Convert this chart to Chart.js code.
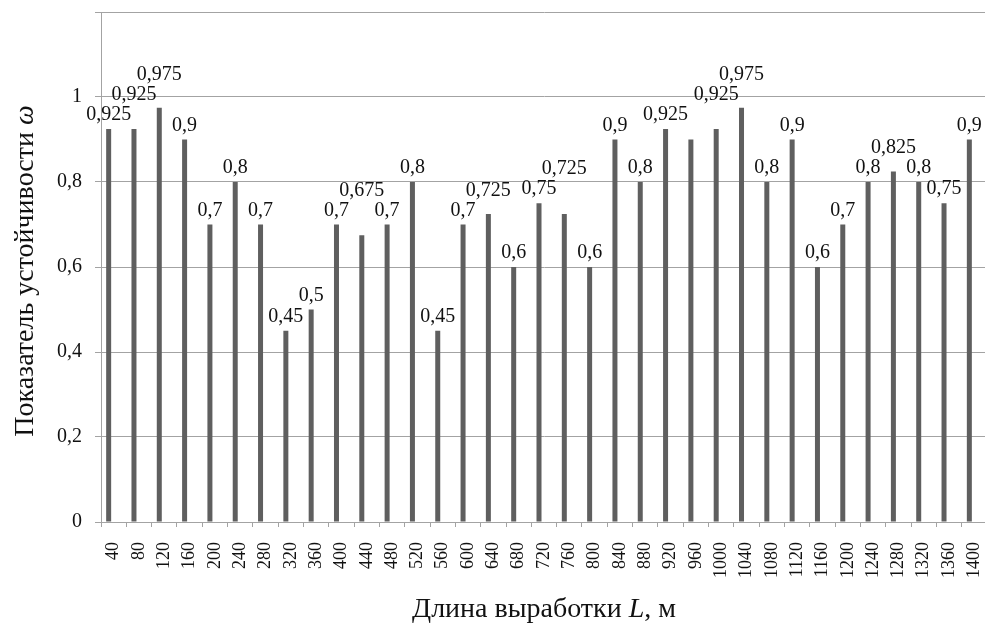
<!DOCTYPE html>
<html>
<head>
<meta charset="utf-8">
<script src="https://cdn.jsdelivr.net/npm/chart.js@4"></script>
<style>
  html, body { margin: 0; padding: 0; background: #fff; overflow: hidden; }
  #wrap { position: relative; width: 992px; height: 635px; }
</style>
</head>
<body>
<div id="wrap"><canvas id="chart"></canvas></div>
<script>
// Длина выработки L, м
const lengths = [40, 80, 120, 160, 200, 240, 280, 320, 360, 400, 440, 480, 520, 560, 600, 640, 680,
  720, 760, 800, 840, 880, 920, 960, 1000, 1040, 1080, 1120, 1160, 1200, 1240, 1280, 1320, 1360, 1400];
// Показатель устойчивости ω
const omega = [0.925, 0.925, 0.975, 0.9, 0.7, 0.8, 0.7, 0.45, 0.5, 0.7, 0.675, 0.7, 0.8, 0.45, 0.7, 0.725, 0.6,
  0.75, 0.725, 0.6, 0.9, 0.8, 0.925, 0.9, 0.925, 0.975, 0.8, 0.9, 0.6, 0.7, 0.8, 0.825, 0.8, 0.75, 0.9];
// the source shows no value label over this bar
const unlabeled = [960];
const yTicks = [0, 0.2, 0.4, 0.6, 0.8, 1, 1.2];

const SERIF = "'Liberation Serif', 'Times New Roman', serif";
const GRID = '#a3a3a3';
const comma = v => String(+v.toFixed(3)).replace('.', ',');

// value labels above bars, pushed up when they would collide with a neighbour
const valueLabels = {
  id: 'valueLabels',
  afterDatasetsDraw(chart) {
    const ctx = chart.ctx;
    const meta = chart.getDatasetMeta(0);
    const LABEL_H = 15;
    const placed = [];
    ctx.save();
    ctx.font = '20px ' + SERIF;
    ctx.fillStyle = '#111';
    ctx.textAlign = 'center';
    ctx.textBaseline = 'alphabetic';
    meta.data.forEach((bar, i) => {
      if (unlabeled.includes(lengths[i])) return;
      const text = comma(omega[i]);
      const w = ctx.measureText(text).width;
      let bottom = bar.y - 9;
      let moved = true;
      while (moved) {
        moved = false;
        for (const p of placed) {
          const xHit = Math.abs(p.x - bar.x) < (p.w + w) / 2 + 6;
          const yHit = bottom > p.bottom - LABEL_H && bottom - LABEL_H < p.bottom;
          if (xHit && yHit) {
            bottom = p.bottom - LABEL_H - 5;
            moved = true;
          }
        }
      }
      placed.push({ x: bar.x, w, bottom });
      ctx.fillText(text, bar.x, bottom);
    });
    ctx.restore();
  }
};

// axis titles with italic symbols
function richText(ctx, parts, cx, cy, angle) {
  ctx.save();
  ctx.translate(cx, cy);
  ctx.rotate(angle);
  ctx.textBaseline = 'alphabetic';
  ctx.textAlign = 'left';
  ctx.fillStyle = '#111';
  let total = 0;
  parts.forEach(p => { ctx.font = p[1] + ' 28px ' + SERIF; total += ctx.measureText(p[0]).width; });
  let x = -total / 2;
  parts.forEach(p => {
    ctx.font = p[1] + ' 28px ' + SERIF;
    ctx.fillText(p[0], x, 0);
    x += ctx.measureText(p[0]).width;
  });
  ctx.restore();
}

const axisTitles = {
  id: 'axisTitles',
  afterDraw(chart) {
    const ctx = chart.ctx;
    richText(ctx, [['Показатель устойчивости ', 'normal'], ['ω', 'italic']], 33, 271, -Math.PI / 2);
    richText(ctx, [['Длина выработки ', 'normal'], ['L', 'italic'], [', м', 'normal']], 544, 617, 0);
  }
};

new Chart(document.getElementById('chart'), {
  type: 'bar',
  data: {
    labels: lengths.map(String),
    datasets: [
      {
        data: omega,
        backgroundColor: '#5f5f5f',
        borderWidth: 0,
        categoryPercentage: 0.79,
        barPercentage: 0.5
      },
      // second series of the source sheet is empty, it only reserves the slot to the right
      { data: [], backgroundColor: '#5f5f5f', categoryPercentage: 0.79, barPercentage: 0.5 }
    ]
  },
  options: {
    responsive: true,
    maintainAspectRatio: false,
    animation: false,
    layout: { padding: { top: 12, right: 5, bottom: 0, left: 0 } },
    plugins: { legend: { display: false }, tooltip: { enabled: false } },
    scales: {
      x: {
        grid: { display: true, drawOnChartArea: false, drawTicks: true, tickLength: 5, color: GRID },
        border: { color: GRID, width: 1 },
        ticks: {
          autoSkip: false, minRotation: 90, maxRotation: 90, padding: 15,
          color: '#111', font: { family: SERIF, size: 18 }
        },
        afterFit(axis) {
          axis.height = 113;
          axis.paddingLeft = 0;
          axis.paddingRight = 0;
        }
      },
      y: {
        min: 0,
        max: 1.2,
        afterBuildTicks(axis) { axis.ticks = yTicks.map(v => ({ value: v })); },
        grid: { color: GRID, tickLength: 6, lineWidth: 1 },
        border: { color: GRID, width: 1 },
        ticks: {
          padding: 13, color: '#111', font: { family: SERIF, size: 20 },
          callback: v => (v >= 1.1 ? '' : comma(v))
        },
        afterFit(axis) {
          axis.width = 101;
          axis.paddingTop = 0;
          axis.paddingBottom = 0;
        }
      }
    }
  },
  plugins: [valueLabels, axisTitles]
});
</script>
</body>
</html>
